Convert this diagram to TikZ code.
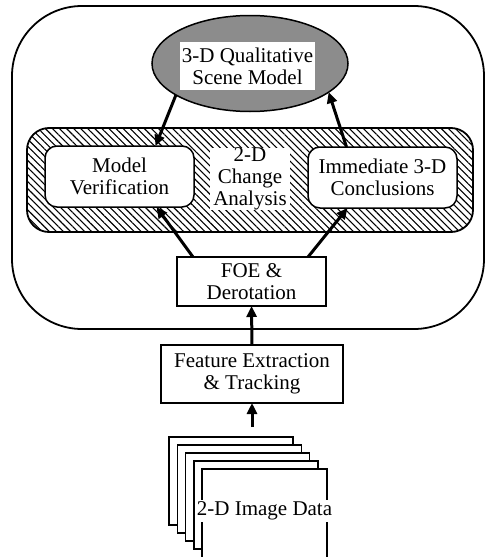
\documentclass[tikz,border=0pt]{standalone}
\usepackage{fontspec}
\setmainfont{Liberation Serif}
\usetikzlibrary{arrows.meta,patterns.meta,shapes.geometric}
\begin{document}
\begin{tikzpicture}[x=1pt,y=-1pt,
  txt/.style={align=center, inner sep=0pt, outer sep=0pt, font=\fontsize{21}{22}\selectfont},
  box/.style={txt, draw, line width=1.5pt, fill=white},
  rbox/.style={box, rounded corners=12pt},
  lbl/.style={txt, fill=white},
  arr/.style={line width=3pt, -{Triangle[length=11pt,width=10pt]}},
  sheet/.style={draw, line width=1.5pt, fill=white}
]
\useasboundingbox (0,0) rectangle (486,557);
% outer frame
\draw[line width=1.8pt, rounded corners=70pt] (12,6) rectangle (484,329);
% hatched group
\node[draw, line width=1.8pt, rounded corners=22pt, inner sep=0pt, outer sep=0pt,
  minimum width=446pt, minimum height=104pt,
  pattern={Lines[angle=-45,distance=5pt,line width=1.1pt]}] (grp) at (250,180) {};
% scene model ellipse
\node[ellipse, draw, line width=1.5pt, fill=black!45, inner sep=0pt, outer sep=0pt,
  minimum width=196pt, minimum height=96pt] (scene) at (250,63.5) {};
\node[lbl, minimum width=135pt, minimum height=48pt] (scenelbl) at (247.5,66) {3-D Qualitative\\Scene Model};
% inner boxes
\node[rbox, minimum width=149pt, minimum height=61pt] (model) at (119.5,176.5) {Model\\Verification};
\node[rbox, minimum width=149pt, minimum height=61pt] (concl) at (382.5,177.5) {Immediate 3-D\\Conclusions};
\node[lbl, minimum width=80pt, minimum height=62pt] (mid) at (250,179) {2-D\\Change\\Analysis};
\node[box, minimum width=149pt, minimum height=49pt] (foe) at (251.5,281.5) {FOE \&\\Derotation};
\node[box, minimum width=182pt, minimum height=58pt] (feat) at (252,374) {Feature Extraction\\\& Tracking};
% image stack
\foreach \i in {0,...,3}
  \draw[sheet] ({169+8.25*\i},{437+8*\i}) rectangle ++(124,88);
\draw[sheet] (202,558) -- (202,469) -- (327,469) -- (327,558);
\node[lbl, inner sep=1.5pt] (data) at (264.5,511) {2-D Image Data};
\coordinate (src) at (252,427);
% arrows
\draw[arr] (src) -- (feat.south);
\draw[arr] (feat.north) -- (foe.south);
\draw[arr] ([xshift=16pt]foe.north west) -- ([xshift=37pt]model.south);
\draw[arr] ([xshift=-18pt]foe.north east) -- ([xshift=-35pt]concl.south);
\draw[arr] (scene.203) -- ([xshift=36pt]model.north);
\draw[arr] ([xshift=-36pt]concl.north) -- (scene.-20);
\end{tikzpicture}
\end{document}
